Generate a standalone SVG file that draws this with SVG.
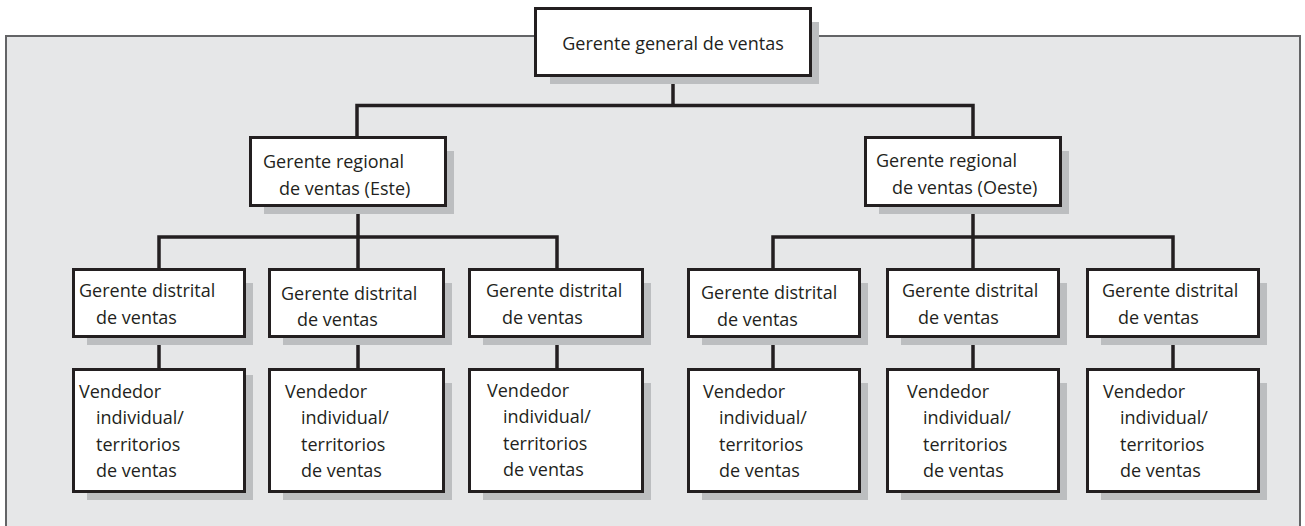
<svg xmlns="http://www.w3.org/2000/svg" width="1305" height="526" viewBox="0 0 1305 526">
<style>
.panel{fill:#e6e7e8;stroke:#636466;stroke-width:2}
.sh{fill:#bcbec0;stroke:none}
.box{fill:#ffffff;stroke:#231f20;stroke-width:3}
.ln{fill:none;stroke:#231f20;stroke-width:3.5;stroke-linecap:square}
text{font-family:"Open Sans","Noto Sans","Liberation Sans",sans-serif;font-size:18px;fill:#231f20}
</style>
<rect width="1305" height="526" fill="#ffffff"/>
<path class="panel" d="M6 530 V36 H1300 V530"/>
<g id="connectors">
<path class="ln" d="M673 77 V105.5 M357 105.5 H973 M357 105.5 V136 M973 105.5 V136"/>
<path class="ln" d="M358 207 V268 M159 237 H557 M159 237 V268 M557 237 V268"/>
<path class="ln" d="M973 207 V268 M773 237 H1173 M773 237 V268 M1173 237 V268"/>
<path class="ln" d="M159 338 V368 M358 338 V368 M557 338 V368 M773 338 V368 M973 338 V368 M1173 338 V368"/>
</g>
<g id="n-general">
<rect class="sh" x="550" y="22" width="269" height="62"/>
<rect class="box" x="535.5" y="8.5" width="275" height="67"/>
<text x="673" y="50" text-anchor="middle">Gerente general de ventas</text>
</g>
<g id="n-reg-este">
<rect class="sh" x="264" y="151" width="190" height="63"/>
<rect class="box" x="250.5" y="137.5" width="195" height="68"/>
<text x="263" y="168">Gerente regional</text>
<text x="279" y="195">de ventas (Este)</text>
</g>
<g id="n-reg-oeste">
<rect class="sh" x="879" y="151" width="190" height="63"/>
<rect class="box" x="865.5" y="137.5" width="195" height="68"/>
<text x="876" y="167">Gerente regional</text>
<text x="892" y="194">de ventas (Oeste)</text>
</g>
<g id="n-dist-1">
<rect class="sh" x="87" y="283" width="166" height="62"/>
<rect class="box" x="73.5" y="269.5" width="171" height="67"/>
<text x="79" y="297">Gerente distrital</text>
<text x="96" y="324">de ventas</text>
</g>
<g id="n-dist-2">
<rect class="sh" x="283" y="283" width="169" height="62"/>
<rect class="box" x="269.5" y="269.5" width="174" height="67"/>
<text x="281" y="300">Gerente distrital</text>
<text x="297" y="326">de ventas</text>
</g>
<g id="n-dist-3">
<rect class="sh" x="483" y="283" width="168" height="62"/>
<rect class="box" x="469.5" y="269.5" width="173" height="67"/>
<text x="486" y="297">Gerente distrital</text>
<text x="502" y="324">de ventas</text>
</g>
<g id="n-dist-4">
<rect class="sh" x="702" y="283" width="166" height="62"/>
<rect class="box" x="688.5" y="269.5" width="171" height="67"/>
<text x="701" y="299">Gerente distrital</text>
<text x="717" y="326">de ventas</text>
</g>
<g id="n-dist-5">
<rect class="sh" x="901" y="283" width="166" height="62"/>
<rect class="box" x="887.5" y="269.5" width="171" height="67"/>
<text x="902" y="297">Gerente distrital</text>
<text x="918" y="324">de ventas</text>
</g>
<g id="n-dist-6">
<rect class="sh" x="1101" y="283" width="166" height="62"/>
<rect class="box" x="1087.5" y="269.5" width="171" height="67"/>
<text x="1102" y="297">Gerente distrital</text>
<text x="1118" y="324">de ventas</text>
</g>
<g id="n-vend-1">
<rect class="sh" x="87" y="375" width="166" height="125"/>
<rect class="box" x="73.5" y="369.5" width="171" height="122"/>
<text x="79" y="398">Vendedor</text>
<text x="96" y="424">individual/</text>
<text x="96" y="450.5">territorios</text>
<text x="96" y="477">de ventas</text>
</g>
<g id="n-vend-2">
<rect class="sh" x="283" y="383" width="169" height="117"/>
<rect class="box" x="269.5" y="369.5" width="174" height="122"/>
<text x="285" y="398">Vendedor</text>
<text x="301" y="424">individual/</text>
<text x="301" y="450.5">territorios</text>
<text x="301" y="477">de ventas</text>
</g>
<g id="n-vend-3">
<rect class="sh" x="483" y="383" width="168" height="117"/>
<rect class="box" x="469.5" y="369.5" width="173" height="122"/>
<text x="487" y="397">Vendedor</text>
<text x="503" y="423">individual/</text>
<text x="503" y="449.5">territorios</text>
<text x="503" y="476">de ventas</text>
</g>
<g id="n-vend-4">
<rect class="sh" x="702" y="383" width="166" height="117"/>
<rect class="box" x="688.5" y="369.5" width="171" height="122"/>
<text x="703" y="398">Vendedor</text>
<text x="719" y="424">individual/</text>
<text x="719" y="450.5">territorios</text>
<text x="719" y="477">de ventas</text>
</g>
<g id="n-vend-5">
<rect class="sh" x="901" y="383" width="166" height="117"/>
<rect class="box" x="887.5" y="369.5" width="171" height="122"/>
<text x="907" y="398">Vendedor</text>
<text x="923" y="424">individual/</text>
<text x="923" y="450.5">territorios</text>
<text x="923" y="477">de ventas</text>
</g>
<g id="n-vend-6">
<rect class="sh" x="1101" y="383" width="166" height="117"/>
<rect class="box" x="1087.5" y="369.5" width="171" height="122"/>
<text x="1103" y="398">Vendedor</text>
<text x="1120" y="424">individual/</text>
<text x="1120" y="450.5">territorios</text>
<text x="1120" y="477">de ventas</text>
</g>
</svg>
